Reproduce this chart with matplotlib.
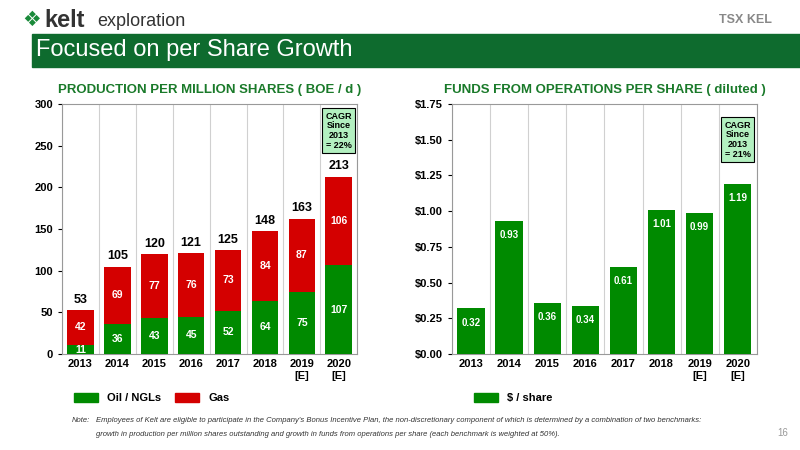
import matplotlib.pyplot as plt
import matplotlib.patches as mpatches
import numpy as np

years = ['2013', '2014', '2015', '2016', '2017', '2018', '2019\n[E]', '2020\n[E]']
oil = [11, 36, 43, 45, 52, 64, 75, 107]
gas = [42, 69, 77, 76, 73, 84, 87, 106]
totals = [53, 105, 120, 121, 125, 148, 163, 213]
ffo = [0.32, 0.93, 0.36, 0.34, 0.61, 1.01, 0.99, 1.19]

GREEN = '#008a00'
RED = '#d40000'
TITLE_GREEN = '#1a7a2a'

plt.rcParams['font.family'] = ['Liberation Sans', 'DejaVu Sans']
fig = plt.figure(figsize=(8, 4.5), dpi=100)

# header
fig.patches.append(mpatches.Rectangle((0.04, 0.852), 0.96, 0.072, transform=fig.transFigure,
                                      color='#0e6b2e', zorder=0))
fig.text(0.045, 0.888, 'Focused on per Share Growth', color='white', fontsize=17, va='center')
fig.text(0.055, 0.955, 'kelt', color='#333333', fontsize=17, weight='bold', va='center')
fig.text(0.122, 0.952, 'exploration', color='#333333', fontsize=13, va='center')
fig.text(0.028, 0.955, '❖', color='#1a8a3a', fontsize=15, va='center', family='DejaVu Sans')
fig.text(0.965, 0.955, 'TSX KEL', color='#888888', fontsize=9, weight='bold', va='center', ha='right')

x = np.arange(len(years))

# left chart
ax1 = fig.add_axes([0.0775, 0.213, 0.369, 0.556])
ax1.bar(x, oil, 0.72, color=GREEN, zorder=3)
ax1.bar(x, gas, 0.72, bottom=oil, color=RED, zorder=3)
for i in range(len(x)):
    ax1.text(x[i], oil[i] / 2, str(oil[i]), ha='center', va='center', color='white',
             fontsize=7.5, weight='bold', zorder=4)
    ax1.text(x[i], oil[i] + gas[i] / 2, str(gas[i]), ha='center', va='center', color='white',
             fontsize=7.5, weight='bold', zorder=4)
    ax1.text(x[i], totals[i] + 5, str(totals[i]), ha='center', va='bottom', color='black',
             fontsize=9, weight='bold')
ax1.set_ylim(0, 300)
ax1.set_yticks(range(0, 301, 50))
ax1.set_title('PRODUCTION PER MILLION SHARES ( BOE / d )', color=TITLE_GREEN, fontsize=9.5,
              weight='bold', pad=8)
ax1.text(7, 268, 'CAGR\nSince\n2013\n= 22%', ha='center', va='center', fontsize=6.5, weight='bold',
         linespacing=1.1, bbox=dict(boxstyle='square,pad=0.35', fc='#b3f0c0', ec='black', lw=0.8))

# right chart
ax2 = fig.add_axes([0.565, 0.213, 0.381, 0.556])
ax2.bar(x, ffo, 0.72, color=GREEN, zorder=3)
for i in range(len(x)):
    ax2.text(x[i], ffo[i] - 0.1, '%.2f' % ffo[i], ha='center', va='center', color='white',
             fontsize=7, weight='bold', zorder=4)
ax2.set_ylim(0, 1.75)
ax2.set_yticks(np.arange(0, 1.76, 0.25))
ax2.set_yticklabels(['$%.2f' % v for v in np.arange(0, 1.76, 0.25)])
ax2.set_title('FUNDS FROM OPERATIONS PER SHARE ( diluted )', color=TITLE_GREEN, fontsize=9.5,
              weight='bold', pad=8)
ax2.text(7, 1.50, 'CAGR\nSince\n2013\n= 21%', ha='center', va='center', fontsize=6.5, weight='bold',
         linespacing=1.1, bbox=dict(boxstyle='square,pad=0.35', fc='#b3f0c0', ec='black', lw=0.8))

for ax in (ax1, ax2):
    ax.set_xlim(-0.5, 7.5)
    ax.set_xticks(x)
    ax.set_xticklabels(years, fontsize=8, weight='bold')
    ax.set_xticks(np.arange(-0.5, 7.6, 1), minor=True)
    ax.grid(which='minor', axis='x', color='#d0d0d0', lw=0.8, zorder=0)
    ax.tick_params(axis='x', which='both', length=0)
    ax.tick_params(axis='y', labelsize=8, length=3)
    for lbl in ax.get_yticklabels():
        lbl.set_weight('bold')
    for s in ax.spines.values():
        s.set_color('#999999')

# legends
fig.legend(handles=[mpatches.Patch(color=GREEN, label='Oil / NGLs'),
                    mpatches.Patch(color=RED, label='Gas')],
           loc='center left', bbox_to_anchor=(0.08, 0.115), ncol=2, frameon=False,
           handlelength=2.2, handleheight=0.9, columnspacing=1.2,
           prop={'weight': 'bold', 'size': 8})
fig.legend(handles=[mpatches.Patch(color=GREEN, label='$ / share')],
           loc='center left', bbox_to_anchor=(0.58, 0.115), frameon=False,
           handlelength=2.2, handleheight=0.9, prop={'weight': 'bold', 'size': 8})

fig.text(0.09, 0.062, 'Note:', fontsize=5.5, style='italic', color='#333333')
fig.text(0.12, 0.062, "Employees of Kelt are eligible to participate in the Company's Bonus Incentive Plan, "
         "the non-discretionary component of which is determined by a combination of two benchmarks:",
         fontsize=5.5, style='italic', color='#333333')
fig.text(0.12, 0.030, 'growth in production per million shares outstanding and growth in funds from operations '
         'per share (each benchmark is weighted at 50%).', fontsize=5.5, style='italic', color='#333333')
fig.text(0.985, 0.03, '16', fontsize=7, color='#999999', ha='right')

fig.savefig('out.png', dpi=100)
